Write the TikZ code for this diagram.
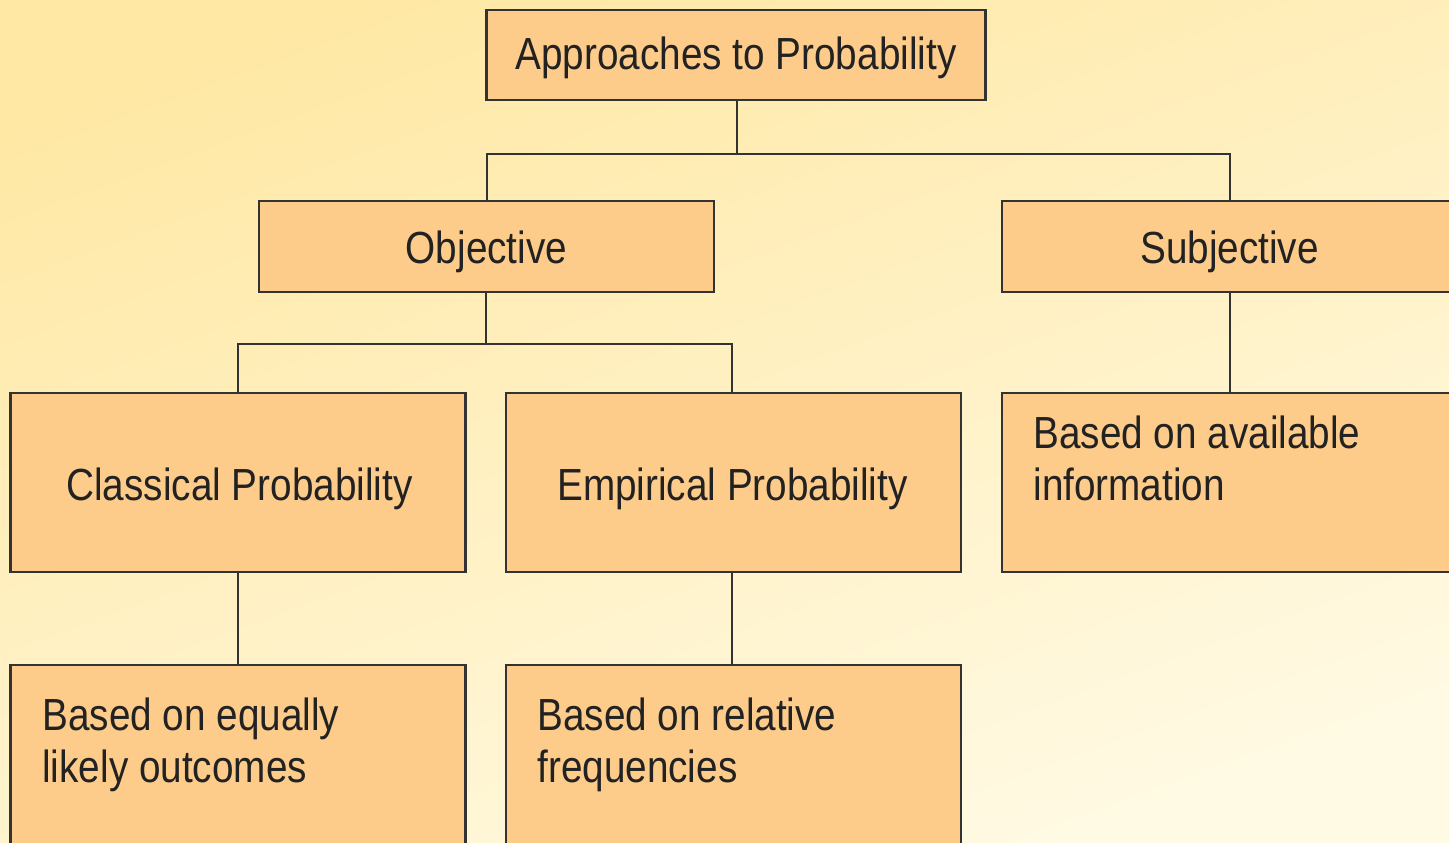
\documentclass[tikz,border=0pt]{standalone}
\usepackage{fontspec}
\setmainfont{Liberation Sans}[FakeStretch=0.86]
\definecolor{bgtop}{HTML}{FFE8A4}
\definecolor{bgbot}{HTML}{FFFAE4}
\definecolor{boxfill}{HTML}{FDCB8A}
\definecolor{edge}{HTML}{333333}
\definecolor{ink}{HTML}{222222}
\tikzset{
  box/.style={draw=edge, line width=1.1pt, fill=boxfill, rectangle, inner sep=0pt},
  lbl/.style={text=ink, font=\fontsize{22.5}{26}\selectfont, inner sep=0pt, anchor=base},
  lbll/.style={lbl, anchor=base west, align=left},
  conn/.style={draw=edge, line width=1pt}
}
\begin{document}
\begin{tikzpicture}[x=0.5pt, y=-0.5pt]
\useasboundingbox (0,0) rectangle (1449,842);
\shade[top color=bgtop, bottom color=bgbot, shading angle=20] (-20,-20) rectangle (1470,862);
% junctions
\coordinate (j1) at (737,154);
\coordinate (j2) at (486,344);
% boxes
\node[box, minimum width=249.5pt, minimum height=45pt] (top) at (736,55) {};
\node[box, minimum width=227.5pt, minimum height=45.5pt] (obj) at (486.5,246.5) {};
\node[box, minimum width=228pt, minimum height=45.5pt] (subj) at (1230,246.5) {};
\node[box, minimum width=227.5pt, minimum height=89.5pt] (class) at (238,482.5) {};
\node[box, minimum width=227.5pt, minimum height=89.5pt] (emp) at (733.5,482.5) {};
\node[box, minimum width=228pt, minimum height=89.5pt] (info) at (1230,482.5) {};
\node[box, minimum width=227.5pt, minimum height=102.5pt] (eq) at (238,767.5) {};
\node[box, minimum width=227.5pt, minimum height=102.5pt] (rel) at (733.5,767.5) {};
% connectors
\draw[conn] (top.south -| j1) -- (j1);
\draw[conn] (j1) -| (obj.north);
\draw[conn] (j1) -| (subj.north);
\draw[conn] (obj.south -| j2) -- (j2);
\draw[conn] (j2) -| (class.north);
\draw[conn] (j2) -| (emp.north -| 732,0);
\draw[conn] (subj.south) -- (info.north);
\draw[conn] (class.south) -- (eq.north);
\draw[conn] (emp.south -| 732,0) -- (rel.north -| 732,0);
% labels
\node[lbl] (ttop) at (736,69) {Approaches to Probability};
\node[lbl] (tobj) at (486.5,263) {Objective};
\node[lbl] (tsubj) at (1229.5,263) {Subjective};
\node[lbl] (tclass) at (239.5,500) {Classical Probability};
\node[lbl] (temp) at (732.5,500) {Empirical Probability};
\node[lbll] (tinfo) at (1033,500) {Based on available\\information};
\node[lbll] (teq) at (42,782) {Based on equally\\likely outcomes};
\node[lbll] (trel) at (537,782) {Based on relative\\frequencies};
\end{tikzpicture}
\end{document}
